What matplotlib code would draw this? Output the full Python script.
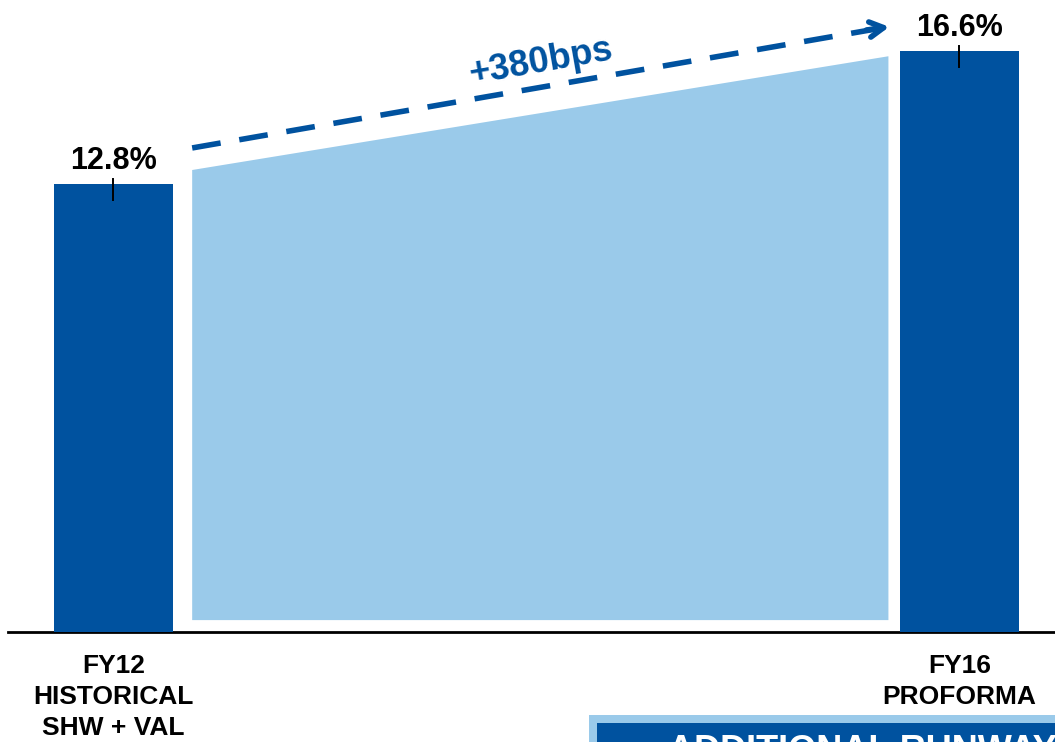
import matplotlib
matplotlib.use("Agg")
import matplotlib.pyplot as plt
from matplotlib.patches import Polygon, Rectangle

# Margin by period
categories = ["FY12\nHISTORICAL\nSHW + VAL", "FY16\nPROFORMA"]
margins = [12.8, 16.6]
value_labels = ["12.8%", "16.6%"]

DARK = "#00529F"
LIGHT = "#9ACAEA"

plt.rcParams["font.family"] = ["Liberation Sans", "DejaVu Sans"]
plt.rcParams["font.weight"] = "bold"

W, H = 1055, 742
fig = plt.figure(figsize=(W / 100, H / 100), dpi=100)
base_px = 632
ax = fig.add_axes([8 / W, (H - base_px) / H, (W - 8) / W, base_px / H])

px_per_pt = 35.0
ax.set_ylim(0, base_px / px_per_pt)
ax.set_xlim(-0.1247, 1.1129)

xs = [0, 1]
ax.bar(xs, margins, width=0.1407, color=DARK, zorder=3)

# small leader marks through each bar top
for x, v, lbl in zip(xs, margins, value_labels):
    ax.plot([x, x], [v - 0.45, v + 0.15], color="black", lw=1.4, zorder=4)
    ax.text(x, v + 0.22, lbl, ha="center", va="bottom",
            fontsize=22, fontweight="bold", color="black")

# widening wedge between the two bars
x0, x1 = 0.093, 0.916
wedge = Polygon([[x0, 0.34], [x1, 0.34], [x1, margins[1] - 0.15],
                 [x0, margins[0] + 0.4]], closed=True, facecolor=LIGHT,
                edgecolor="none", zorder=2)
ax.add_patch(wedge)

# dashed arrow showing the change
start = (x0, margins[0] + 1.03)
tip = (0.917, margins[1] + 0.69)
ax.plot([start[0], tip[0] - 0.006], [start[1], tip[1] - 0.02], color=DARK,
        lw=4.0, dashes=(5.2, 3.4), solid_capstyle="butt",
        dash_capstyle="butt", zorder=5)
ax.annotate("", xy=tip, xytext=(0.89, tip[1] - 0.09),
            arrowprops=dict(arrowstyle="->,head_length=1.0,head_width=0.55",
                            color=DARK, lw=4.0, shrinkA=0, shrinkB=0),
            zorder=5)
delta_bps = round((margins[1] - margins[0]) * 100)
ax.text(0.505, 16.29, f"+{delta_bps}bps", ha="center", va="center",
        rotation=10, fontsize=26, fontweight="bold", color=DARK)

ax.set_xticks(xs)
ax.set_xticklabels(categories, fontsize=19, fontweight="bold",
                   linespacing=1.36, va="top")
ax.tick_params(axis="x", length=0, pad=16)
ax.set_yticks([])
for side in ("left", "right", "top"):
    ax.spines[side].set_visible(False)
ax.spines["bottom"].set_linewidth(2)
ax.spines["bottom"].set_color("black")

# callout box running off the lower-right edge
fig.patches.append(Rectangle((589 / W, 0), (W - 589) / W, (H - 715) / H,
                             transform=fig.transFigure, facecolor=LIGHT,
                             edgecolor="none"))
fig.patches.append(Rectangle((597 / W, 0), (W - 597) / W, (H - 723) / H,
                             transform=fig.transFigure, facecolor=DARK,
                             edgecolor="none"))
fig.text(668 / W, (H - 734) / H, "ADDITIONAL RUNWAY", ha="left", va="top",
         fontsize=26, fontweight="bold", color="white")

fig.savefig("out.png", dpi=100)
